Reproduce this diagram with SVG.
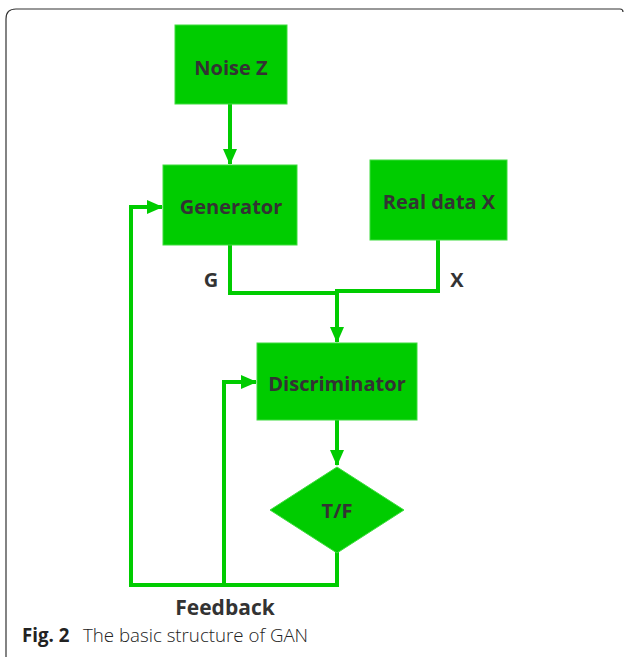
<svg xmlns="http://www.w3.org/2000/svg" width="626" height="657" viewBox="0 0 626 657">
<defs>
<style>
.box{fill:#00cc00;stroke:#3fdc3f;stroke-width:1}
.lbl{font-family:"Open Sans","Noto Sans","Liberation Sans",sans-serif;font-weight:bold;font-size:20px;fill:#333333;text-anchor:middle;dominant-baseline:central}
.wire{fill:none;stroke:#00cc00;stroke-width:4;stroke-linejoin:miter}
.cap{font-family:"Open Sans","Noto Sans","Liberation Sans",sans-serif;font-size:18.7px;fill:#222222}
</style>
<marker id="ah" markerWidth="16" markerHeight="14" refX="15" refY="7" orient="auto" markerUnits="userSpaceOnUse">
<path d="M0,0 L16,7 L0,14 Z" fill="#00cc00"/>
</marker>
</defs>
<rect width="626" height="657" fill="#ffffff"/>
<path d="M6,657 V19 Q6,9 16,9 H620 Q623,9 623,12" fill="none" stroke="#333333" stroke-width="1.2"/>
<g id="connectors">
<path class="wire" d="M230,104 V164" marker-end="url(#ah)"/>
<path class="wire" d="M230,245 V293 H339"/>
<path class="wire" d="M438,240 V291 H337 V342" marker-end="url(#ah)"/>
<path class="wire" d="M337,420 V465" marker-end="url(#ah)"/>
<path class="wire" d="M337,552 V585 H131 V207 H162" marker-end="url(#ah)"/>
<path class="wire" d="M224,585 V382 H256" marker-end="url(#ah)"/>
</g>
<g id="noise">
<rect class="box" x="175" y="25" width="112" height="79"/>
<text class="lbl" x="231" y="67">Noise Z</text>
</g>
<g id="generator">
<rect class="box" x="163" y="165" width="134" height="80"/>
<text class="lbl" x="231" y="206">Generator</text>
</g>
<g id="realdata">
<rect class="box" x="370" y="160" width="137" height="80"/>
<text class="lbl" x="439" y="201">Real data X</text>
</g>
<g id="discriminator">
<rect class="box" x="257" y="343" width="160" height="77"/>
<text class="lbl" x="337" y="383">Discriminator</text>
</g>
<g id="tf">
<polygon class="box" points="337,467 404,510 337,553 270,510"/>
<text class="lbl" x="337" y="510">T/F</text>
</g>
<g id="labels">
<text class="lbl" x="211" y="279">G</text>
<text class="lbl" x="457" y="279">X</text>
<text class="lbl" x="225" y="607" style="font-size:21px">Feedback</text>
</g>
<g id="caption">
<text class="cap" x="22" y="642"><tspan font-weight="bold">Fig. 2</tspan><tspan x="83" font-weight="300">The basic structure of GAN</tspan></text>
</g>
</svg>
